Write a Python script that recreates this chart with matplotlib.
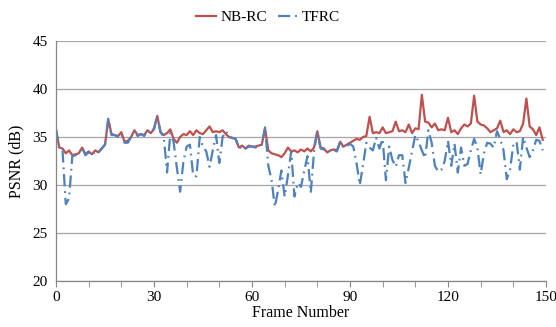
import numpy as np
import matplotlib
matplotlib.use("Agg")
import matplotlib.pyplot as plt

# PSNR per frame
nb_rc = [
    35.8, 33.9, 33.8, 33.3, 33.6, 33.1, 33.2, 33.3, 33.9, 33.2,
    33.5, 33.2, 33.6, 33.4, 33.8, 34.2, 36.8, 35.3, 35.2, 35.1,
    35.5, 34.5, 34.6, 35.0, 35.7, 35.2, 35.3, 35.2, 35.7, 35.4,
    35.8, 37.2, 35.5, 35.2, 35.4, 35.8, 34.8, 34.4, 35.0, 35.3,
    35.2, 35.6, 35.2, 35.7, 35.4, 35.3, 35.7, 36.1, 35.5, 35.6,
    35.5, 35.7, 35.3, 35.0, 34.9, 34.8, 33.9, 34.1, 33.8, 34.1,
    34.0, 34.0, 34.1, 34.2, 35.9, 33.6, 33.3, 33.2, 33.1, 32.9,
    33.3, 33.9, 33.5, 33.6, 33.4, 33.7, 33.5, 33.8, 33.5, 33.9,
    35.6, 33.9, 33.8, 33.4, 33.6, 33.7, 33.6, 34.5, 34.0, 34.2,
    34.4, 34.6, 34.8, 34.7, 35.0, 35.1, 37.1, 35.4, 35.5, 35.4,
    36.0, 35.4, 35.5, 35.6, 36.6, 35.6, 35.7, 35.5, 36.3, 35.4,
    35.9, 35.8, 39.4, 36.6, 36.5, 36.0, 36.4, 35.7, 35.8, 35.7,
    37.0, 35.5, 35.7, 35.3, 35.9, 36.3, 36.1, 36.4, 39.3, 36.6,
    36.3, 36.2, 35.9, 35.5, 35.7, 35.9, 36.7, 35.5, 35.7, 35.3,
    35.8, 35.5, 35.6, 36.4, 39.0, 36.1, 35.8, 35.2, 36.0, 34.7,
]

tfrc = [
    35.8, 33.7, 33.6, 28.0, 28.6, 33.0, 33.1, 33.3, 33.9, 33.1,
    33.4, 33.1, 33.5, 33.4, 33.8, 34.2, 36.9, 35.2, 35.2, 35.0,
    35.3, 34.4, 34.4, 35.0, 35.7, 35.1, 35.3, 35.1, 35.7, 35.4,
    35.9, 37.2, 35.5, 35.0, 31.3, 35.4, 34.5, 31.8, 29.3, 32.4,
    34.0, 34.2, 31.0, 30.9, 35.0, 34.0, 33.5, 31.9, 33.6, 35.2,
    32.3, 35.0, 35.6, 35.0, 34.9, 34.8, 33.8, 34.0, 33.8, 34.0,
    34.0, 33.9, 34.0, 34.2, 36.0, 32.0, 30.5, 27.7, 29.5, 31.5,
    28.8, 31.0, 33.5, 28.8, 30.2, 29.8, 31.5, 33.0, 29.2, 33.5,
    35.6, 33.8, 33.7, 33.4, 33.6, 33.6, 33.5, 34.5, 33.9, 34.0,
    34.3, 34.0, 32.3, 30.0, 32.1, 34.4, 33.9, 33.6, 34.9, 33.8,
    34.8, 30.5, 34.0, 32.6, 31.9, 33.1, 33.1, 30.2, 31.8, 33.5,
    35.2, 34.5, 33.6, 32.8, 35.7, 34.4, 32.0, 31.4, 31.6, 32.5,
    34.6, 32.0, 34.3, 31.3, 33.9, 32.0, 32.2, 33.6, 34.8, 33.9,
    31.1, 33.3, 34.4, 34.3, 33.9, 35.6, 34.8, 33.6, 30.6, 31.6,
    34.2, 34.5, 31.6, 35.0, 33.9, 32.9, 33.6, 34.7, 34.6, 33.6,
]

frames = np.arange(len(nb_rc))

plt.rcParams['font.family'] = ['Liberation Serif', 'DejaVu Serif']

fig = plt.figure(figsize=(5.56, 3.27), dpi=100)
ax = fig.add_axes([0.1007, 0.1407, 0.8813, 0.734])

ax.plot(frames, nb_rc, color='#C0504D', lw=1.6, label='NB-RC')
ax.plot(frames, tfrc, color='#4F81BD', lw=1.6,
        linestyle=(0, (5.5, 2.2, 0.8, 2.2)), label='TFRC')

ax.set_xlim(0, 150)
ax.set_ylim(20, 45)
ax.set_xticks(range(0, 151, 30))
ax.set_xticks(range(0, 151, 10), minor=True)
ax.set_yticks(range(20, 46, 5))
ax.yaxis.grid(True, color='#A6A6A6', lw=0.9)
ax.set_axisbelow(True)

for s in ['top', 'right']:
    ax.spines[s].set_visible(False)
for s in ['left', 'bottom']:
    ax.spines[s].set_color('#868686')
    ax.spines[s].set_linewidth(0.9)

ax.tick_params(axis='x', which='both', direction='out', length=4,
               color='#868686', labelsize=11, pad=3)
ax.tick_params(axis='y', direction='out', length=0, labelsize=11, pad=6)

ax.set_xlabel('Frame Number', fontsize=11.5, labelpad=1)
ax.set_ylabel('PSNR (dB)', fontsize=11.5, labelpad=6)

fig.legend(loc='upper center', bbox_to_anchor=(0.482, 1.01), ncol=2,
           frameon=False, fontsize=11, handlelength=1.35, handletextpad=0.25,
           columnspacing=0.7)

fig.savefig('out.png', dpi=100)
